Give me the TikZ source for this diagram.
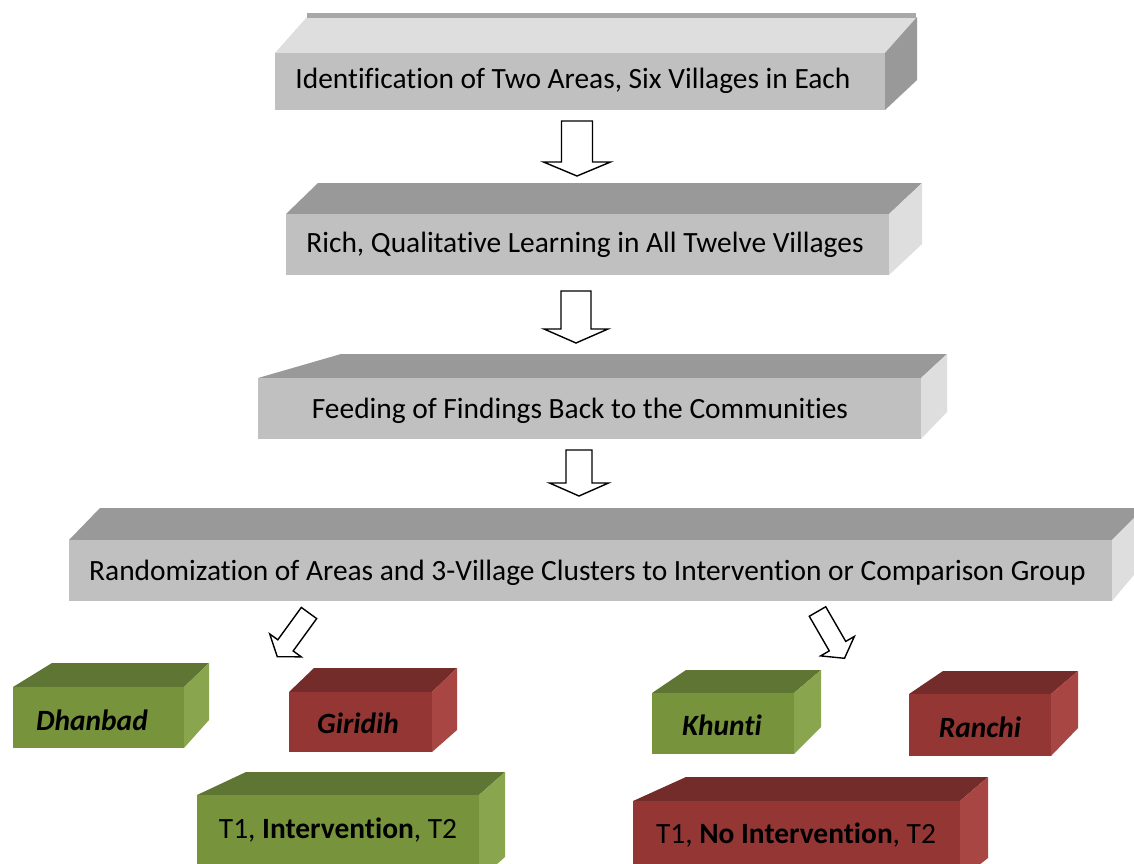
\documentclass[tikz,border=0pt]{standalone}
\usepackage{fontspec}
\setmainfont{Carlito}[Ligatures=NoCommon]
\usepackage{tikz}
\definecolor{greyFront}{HTML}{C0C0C0}
\definecolor{greyDark}{HTML}{999999}
\definecolor{greyLight}{HTML}{DEDEDE}
\definecolor{greenFront}{HTML}{77933C}
\definecolor{greenTop}{HTML}{5E7533}
\definecolor{greenSide}{HTML}{89A54E}
\definecolor{redFront}{HTML}{943634}
\definecolor{redTop}{HTML}{742C2B}
\definecolor{redSide}{HTML}{A84644}
\tikzset{
  grey top/.style={fill=greyDark},   grey side/.style={fill=greyLight},   grey front/.style={fill=greyFront},
  greyup top/.style={fill=greyLight}, greyup side/.style={fill=greyDark}, greyup front/.style={fill=greyFront},
  green top/.style={fill=greenTop},  green side/.style={fill=greenSide},  green front/.style={fill=greenFront},
  red top/.style={fill=redTop},      red side/.style={fill=redSide},      red front/.style={fill=redFront},
  stage/.style={anchor=base, inner sep=0pt, font=\fontsize{29.4}{35}\selectfont},
  district/.style={stage, font=\fontsize{29.4}{35}\selectfont\bfseries\itshape},
  hollow/.style={draw=black, fill=white, line width=1.4pt, line join=miter}
}
\def\prism#1#2#3#4#5#6#7#8#9% Syntax: family {x left}{x right}{y top}{y bottom}{back left x}{back right x}{back y}{side bottom y}
  { \fill[#1 top] (#2,#4) -- (#6,#8) -- (#7,#8) -- (#3,#4) -- cycle;
    \fill[#1 side] (#3,#4) -- (#7,#8) -- (#7,#9) -- (#3,#5) -- cycle;
    \fill[#1 front] (#2,#4) rectangle (#3,#5); }
\def\blockarrow[#1](#2)(#3:#4:#5:#6:#7)% Syntax: [draw options] (tail) (rotation:length:head length:shaft width:head width)
  { \draw[#1,shift={(#2)},rotate=#3] (-#6/2,0) -- (#6/2,0) -- (#6/2,#4-#5) -- (#7/2,#4-#5)
      -- (0,#4) -- (-#7/2,#4-#5) -- (-#6/2,#4-#5) -- cycle; }

\begin{document}
\begin{tikzpicture}[x=1pt, y=-1pt]
   \clip (0,0) rectangle (1134,863);
   \fill[white] (0,0) rectangle (1134,863);

   % flow of stages
   \prism{greyup}{275}{885}{53}{110}{307}{917}{17}{80}
   \fill[greyDark!85!white] (307,13) rectangle (916,18);
   \prism{grey}{286}{889}{214}{275}{318}{922}{183}{244}
   \prism{grey}{258}{921}{378}{439}{341}{947}{354}{412}
   \prism{grey}{69}{1112}{540}{601}{100}{1144}{508}{563}

   \node[stage] (ident) at (573,88) {Identification of Two Areas, Six Villages in Each};
   \node[stage] (rich) at (585,252) {Rich, Qualitative Learning in All Twelve Villages};
   \node[stage] (feed) at (580,418) {Feeding of Findings Back to the Communities};
   \node[stage] (rand) at (587.5,580) {Randomization of Areas and 3-Village Clusters to Intervention or Comparison Group};

   % districts and groups
   \prism{green}{13}{184}{687}{748}{52}{209}{663}{720}
   \prism{red}{289}{432}{692}{752}{314}{457}{668}{730}
   \prism{green}{652}{794}{693}{754}{686}{821}{670}{727}
   \prism{red}{909}{1051}{694}{756}{943}{1078}{671}{728}
   \prism{green}{197}{479}{795}{880}{246}{505}{772}{857}
   \prism{red}{633}{960}{801}{880}{686}{988}{777}{858}

   \node[district] (dhanbad) at (92,730) {Dhanbad};
   \node[district] (giridih) at (358,733) {Giridih};
   \node[district] (khunti) at (722,735) {Khunti};
   \node[district] (ranchi) at (980,737) {Ranchi};
   \node[stage] (treat) at (338,838) {T1, \textbf{Intervention}, T2};
   \node[stage] (ctrl) at (796,843) {T1, \textbf{No Intervention}, T2};

   % hollow arrows
   \coordinate (a1) at (577,121);
   \coordinate (a2) at (576,291);
   \coordinate (a3) at (579,450);
   \coordinate (aL) at (309,613);
   \coordinate (aR) at (817.5,611.5);
   \blockarrow[hollow](a1)(0:55:14:31:67)
   \blockarrow[hollow](a2)(0:52:14:30:64)
   \blockarrow[hollow](a3)(0:46:13:26:59)
   \blockarrow[hollow](aL)(-36:54:14:19:39)
   \blockarrow[hollow](aR)(30:54:14:19:39)
\end{tikzpicture}
\end{document}
